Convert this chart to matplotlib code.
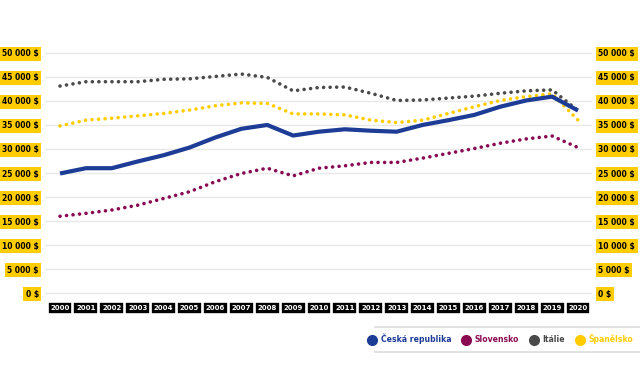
import matplotlib.pyplot as plt
from matplotlib.lines import Line2D

# Data (HDP na obyvatele, $)
roky = list(range(2000, 2021))
cesko = [24900, 26000, 26000, 27400, 28700, 30300, 32400, 34200, 35000, 32800, 33600,
         34100, 33800, 33600, 35000, 36000, 37100, 38800, 40100, 40900, 38000]
slovensko = [16000, 16600, 17300, 18300, 19700, 21100, 23200, 24900, 26000, 24400, 26000,
             26500, 27200, 27200, 28100, 29100, 30100, 31200, 32100, 32700, 30300]
italie = [43100, 44000, 44000, 44000, 44500, 44600, 45100, 45600, 44900, 42100, 42800,
          42900, 41600, 40100, 40200, 40600, 41000, 41600, 42100, 42300, 38000]
spanelsko = [34800, 36000, 36400, 36900, 37400, 38100, 39000, 39600, 39500, 37300, 37300,
             37100, 36000, 35500, 36000, 37400, 38800, 40100, 40900, 41500, 36000]
nazvy = ['Česká republika', 'Slovensko', 'Itálie', 'Španělsko']
barvy = ['#1d3c96', '#8a0a52', '#4a4a4a', '#ffcc00']
y_ticks = list(range(0, 50001, 5000))
y_labels = [f'{v:,} $'.replace(',', ' ') for v in y_ticks]

plt.rcParams['font.family'] = 'DejaVu Sans'
plt.rcParams['font.weight'] = 'bold'

fig = plt.figure(figsize=(6.4, 3.8), dpi=100)
ax = fig.add_axes([45 / 640, 1 - 295.5 / 380, 547 / 640, 245 / 380])

# Dotted lines first, Czech line on top
dot = (0, (0.01, 1.8))
ax.plot(roky, italie, color=barvy[2], lw=2.6, ls=dot, dash_capstyle='round')
ax.plot(roky, spanelsko, color=barvy[3], lw=2.6, ls=dot, dash_capstyle='round')
ax.plot(roky, slovensko, color=barvy[1], lw=2.6, ls=dot, dash_capstyle='round')
ax.plot(roky, cesko, color=barvy[0], lw=3.0, solid_capstyle='butt')

ax.set_xlim(1999.42, 2020.54)
ax.set_ylim(-500, 50500)
ax.set_yticks(y_ticks)
ax.set_yticklabels(y_labels)
ax.set_xticks(roky)
ax.set_xticklabels([str(r) for r in roky])
ax.grid(axis='y', color='#e8e8e8', lw=1)
ax.set_axisbelow(True)
for s in ax.spines.values():
    s.set_visible(False)

ax.tick_params(axis='y', length=0, labelsize=5.5, labelleft=True, labelright=True, pad=4.5)
ax.tick_params(axis='x', length=0, labelsize=5.0, pad=7, labelcolor='white')

for t in ax.yaxis.get_major_ticks():
    for lab in (t.label1, t.label2):
        lab.set_bbox(dict(facecolor='#ffcc00', edgecolor='none', pad=1.8))
        lab.set_color('black')
for t in ax.xaxis.get_major_ticks():
    t.label1.set_bbox(dict(facecolor='black', edgecolor='white', lw=1.2, pad=2.0))

# Legend
handles = [Line2D([], [], marker='o', ls='', color=c, markersize=7) for c in barvy]
leg = fig.legend(handles, nazvy, loc='center right', bbox_to_anchor=(1.0, 1 - 339 / 380),
                 ncol=4, frameon=False, fontsize=5.6, labelcolor=barvy,
                 handletextpad=0.6, columnspacing=1.4, handlelength=1.0)
fig.add_artist(Line2D([375 / 640, 1], [1 - 327 / 380] * 2, color='#dddddd', lw=1.2))
fig.add_artist(Line2D([375 / 640, 1], [1 - 352 / 380] * 2, color='#dddddd', lw=1.2))

fig.savefig('out.png', dpi=100, facecolor='white')
